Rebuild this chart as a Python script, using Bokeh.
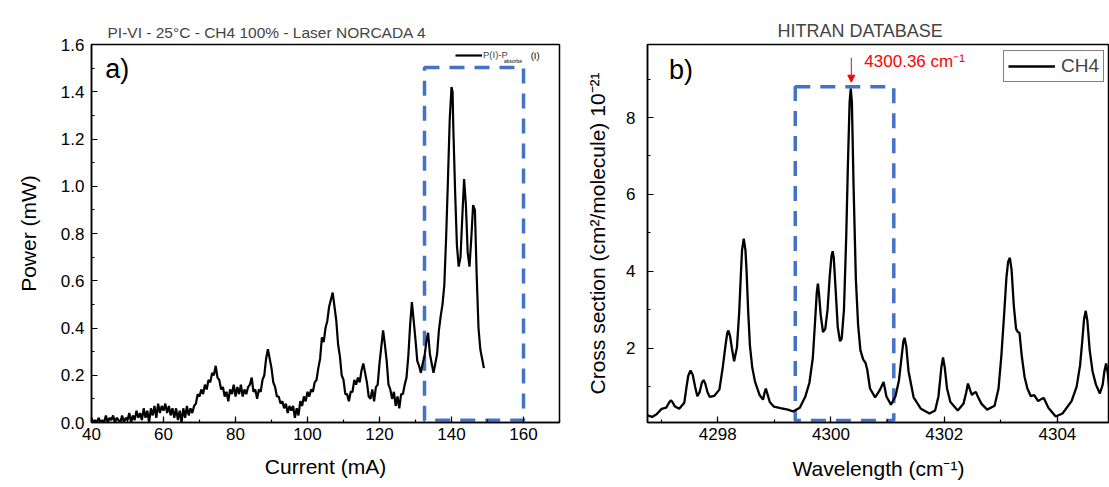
from bokeh.plotting import figure
from bokeh.layouts import row
from bokeh.models import (Legend, LegendItem, Label, Arrow, NormalHead, SingleIntervalTicker,
                          NumeralTickFormatter, Range1d)
from bokeh.embed import file_html
from bokeh.resources import INLINE

FONT = "Liberation Sans"
BLUE = "#4472C4"

# ---------------- data: panel a ----------------
current_mA = [40, 40.5, 41, 41.5, 42, 42.5, 43, 43.5, 44, 44.5, 45, 45.5, 46, 46.5, 47, 47.5, 48, 48.5, 49, 49.5,
              50, 50.5, 51, 51.5, 52, 52.5, 53, 53.5, 54, 54.5, 55, 55.5, 56, 56.5, 57, 57.5, 58, 58.5, 59, 59.5,
              60, 60.5, 61, 61.5, 62, 62.5, 63, 63.5, 64, 64.5, 65, 65.5, 66, 66.5, 67, 67.5, 68, 68.5, 69, 69.5,
              70, 70.5, 71, 71.5, 72, 72.5, 73, 73.5, 74, 74.5, 75, 75.5, 76, 76.5, 77, 77.5, 78, 78.5, 79, 79.5,
              80, 80.5, 81, 81.5, 82, 82.5, 83, 83.5, 84, 84.5, 85, 85.5, 86, 86.5, 87, 87.5, 88, 88.5, 89, 89.5,
              90, 90.5, 91, 91.5, 92, 92.5, 93, 93.5, 94, 94.5, 95, 95.5, 96, 96.5, 97, 97.5, 98, 98.5, 99, 99.5,
              100, 100.5, 101, 101.5, 102, 102.5, 103, 103.5, 104, 104.5, 105, 105.5, 106, 106.5, 107, 107.5, 108, 108.5, 109, 109.5,
              110, 110.5, 111, 111.5, 112, 112.5, 113, 113.5, 114, 114.5, 115, 115.5, 116, 116.5, 117, 117.5, 118, 118.5, 119, 119.5,
              120, 120.5, 121, 121.5, 122, 122.5, 123, 123.5, 124, 124.5, 125, 125.5, 126, 126.5, 127, 127.5, 128, 128.5, 129, 129.5,
              130, 130.5, 131, 131.5, 132, 132.5, 133, 133.5, 134, 134.5, 135, 135.5, 136, 136.5, 137, 137.5, 138, 138.5, 139, 139.5,
              140, 140.3, 140.5, 141, 141.5, 142, 142.5, 143, 143.5, 144, 144.5, 145, 145.5, 146, 146.5, 147, 147.5, 148, 148.5, 149]
power_mW = [0.02, 0.00, 0.01, 0.00, 0.02, 0.00, 0.01, 0.00, 0.03, 0.00, 0.02, 0.01, 0.03, 0.00, 0.02, 0.01, 0.00, 0.03, 0.00, 0.02,
            0.01, 0.04, 0.00, 0.03, 0.01, 0.05, 0.02, 0.04, 0.01, 0.06, 0.02, 0.05, 0.00, 0.06, 0.03, 0.07, 0.02, 0.08, 0.04, 0.07,
            0.05, 0.08, 0.04, 0.07, 0.03, 0.06, 0.02, 0.06, 0.01, 0.05, 0.00, 0.06, 0.02, 0.07, 0.03, 0.06, 0.04, 0.07, 0.08, 0.12,
            0.11, 0.14, 0.12, 0.16, 0.14, 0.18, 0.17, 0.21, 0.20, 0.24, 0.19, 0.18, 0.14, 0.15, 0.11, 0.13, 0.09, 0.14, 0.12, 0.16,
            0.11, 0.15, 0.12, 0.16, 0.11, 0.14, 0.12, 0.15, 0.16, 0.19, 0.13, 0.14, 0.10, 0.14, 0.13, 0.18, 0.20, 0.27, 0.31, 0.27,
            0.23, 0.17, 0.15, 0.11, 0.11, 0.08, 0.09, 0.06, 0.08, 0.04, 0.07, 0.05, 0.07, 0.02, 0.06, 0.03, 0.09, 0.07, 0.11, 0.09,
            0.13, 0.11, 0.14, 0.13, 0.17, 0.18, 0.23, 0.27, 0.36, 0.34, 0.40, 0.43, 0.49, 0.52, 0.55, 0.49, 0.43, 0.33, 0.28, 0.20,
            0.18, 0.12, 0.12, 0.09, 0.13, 0.13, 0.18, 0.16, 0.19, 0.17, 0.22, 0.25, 0.21, 0.17, 0.11, 0.10, 0.14, 0.09, 0.15, 0.16,
            0.25, 0.32, 0.39, 0.33, 0.26, 0.16, 0.14, 0.10, 0.13, 0.07, 0.11, 0.06, 0.12, 0.12, 0.16, 0.19, 0.28, 0.41, 0.51, 0.43,
            0.35, 0.26, 0.24, 0.21, 0.25, 0.28, 0.34, 0.38, 0.29, 0.25, 0.21, 0.25, 0.29, 0.39, 0.45, 0.50, 0.58, 0.78, 1.02, 1.28,
            1.42, 1.40, 1.25, 0.98, 0.75, 0.66, 0.70, 0.87, 1.03, 0.92, 0.72, 0.66, 0.78, 0.92, 0.90, 0.62, 0.40, 0.31, 0.27, 0.23]
box_a_x = [132.5, 160.0]
box_a_y = [0.01, 1.503]

# ---------------- data: panel b ----------------
wavenumber = [4296.76, 4296.84, 4296.92, 4297.01, 4297.09, 4297.14, 4297.17, 4297.20, 4297.24, 4297.32,
              4297.41, 4297.45, 4297.48, 4297.52, 4297.56, 4297.60, 4297.64, 4297.68, 4297.72, 4297.75,
              4297.78, 4297.82, 4297.86, 4297.94, 4298.03, 4298.09, 4298.14, 4298.17, 4298.19, 4298.22,
              4298.25, 4298.29, 4298.34, 4298.38, 4298.41, 4298.43, 4298.46, 4298.49, 4298.51, 4298.54,
              4298.57, 4298.61, 4298.66, 4298.74, 4298.80, 4298.83, 4298.85, 4298.87, 4298.92, 4298.99,
              4299.11, 4299.24, 4299.33, 4299.45, 4299.55, 4299.62, 4299.68, 4299.72, 4299.75, 4299.77,
              4299.79, 4299.82, 4299.86, 4299.90, 4299.94, 4299.98, 4300.01, 4300.03, 4300.05, 4300.08,
              4300.12, 4300.16, 4300.19, 4300.23, 4300.27, 4300.30, 4300.33, 4300.35, 4300.37, 4300.40,
              4300.44, 4300.48, 4300.52, 4300.57, 4300.61, 4300.64, 4300.69, 4300.78, 4300.86, 4300.93,
              4300.98, 4301.06, 4301.14, 4301.20, 4301.25, 4301.28, 4301.30, 4301.33, 4301.37, 4301.46,
              4301.59, 4301.74, 4301.84, 4301.90, 4301.95, 4301.98, 4302.01, 4302.05, 4302.11, 4302.24,
              4302.34, 4302.39, 4302.42, 4302.46, 4302.49, 4302.53, 4302.56, 4302.60, 4302.66, 4302.76,
              4302.89, 4302.96, 4303.01, 4303.06, 4303.10, 4303.13, 4303.16, 4303.19, 4303.23, 4303.27,
              4303.30, 4303.33, 4303.37, 4303.42, 4303.47, 4303.53, 4303.59, 4303.66, 4303.72, 4303.76,
              4303.84, 4303.97, 4304.09, 4304.25, 4304.34, 4304.40, 4304.44, 4304.47, 4304.50, 4304.53,
              4304.57, 4304.62, 4304.68, 4304.75, 4304.80, 4304.83, 4304.86, 4304.89, 4304.92]
cross_section = [0.25, 0.21, 0.28, 0.42, 0.45, 0.58, 0.64, 0.60, 0.49, 0.42,
                 0.58, 1.00, 1.28, 1.42, 1.30, 1.00, 0.75, 0.85, 1.10, 1.17,
                 1.08, 0.85, 0.73, 0.76, 0.92, 1.51, 2.10, 2.40, 2.46, 2.30,
                 2.00, 1.66, 2.02, 2.95, 3.95, 4.55, 4.85, 4.55, 4.00, 2.90,
                 2.05, 1.50, 1.12, 0.78, 0.66, 0.85, 0.95, 0.85, 0.60, 0.48,
                 0.44, 0.40, 0.35, 0.45, 0.75, 1.10, 1.75, 2.70, 3.45, 3.68,
                 3.40, 2.85, 2.42, 2.50, 3.00, 3.90, 4.40, 4.52, 4.35, 3.60,
                 2.55, 2.18, 2.25, 3.00, 4.90, 6.80, 8.40, 8.75, 8.40, 6.20,
                 3.80, 2.60, 1.95, 1.70, 1.62, 1.45, 0.95, 0.72, 0.90, 1.12,
                 0.74, 0.53, 0.75, 1.15, 1.80, 2.18, 2.27, 2.05, 1.40, 0.72,
                 0.42, 0.30, 0.38, 0.75, 1.50, 1.76, 1.50, 0.95, 0.60, 0.38,
                 0.55, 0.85, 1.08, 0.90, 0.78, 0.84, 0.86, 0.72, 0.55, 0.40,
                 0.50, 0.95, 1.80, 2.90, 3.85, 4.25, 4.35, 4.05, 3.10, 2.50,
                 2.42, 2.40, 1.80, 1.25, 0.95, 0.75, 0.78, 0.62, 0.68, 0.70,
                 0.45, 0.22, 0.30, 0.62, 1.00, 1.55, 2.20, 2.75, 2.97, 2.70,
                 1.95, 1.40, 1.05, 0.82, 1.05, 1.40, 1.60, 1.35, 0.85]
box_b_x = [4299.37, 4301.11]
box_b_y = [0.12, 8.8]
peak_wn = 4300.36
arrow_y = [9.55, 8.92]


def style(p):
    p.outline_line_color = "black"
    p.outline_line_width = 1.5
    p.outline_line_alpha = 1
    p.xgrid.visible = False
    p.ygrid.visible = False
    for ax in (p.xaxis[0], p.yaxis[0]):
        ax.axis_line_width = 1.5
        ax.major_tick_in = 6
        ax.major_tick_out = 0
        ax.minor_tick_in = 3
        ax.minor_tick_out = 0
        ax.major_tick_line_width = 1.2
        ax.minor_tick_line_width = 1.2
        ax.major_label_text_font = FONT
        ax.major_label_text_font_size = "17px"
        ax.major_label_text_color = "black"
        ax.axis_label_text_font = FONT
        ax.axis_label_text_font_size = "21px"
        ax.axis_label_text_font_style = "normal"
        ax.axis_label_text_color = "black"
    p.title.text_font = FONT
    p.title.text_font_style = "normal"
    p.title.align = "left"


# ---------------- panel a ----------------
p1 = figure(width=578, height=486, output_backend="svg", toolbar_location=None,
            x_range=Range1d(40, 170), y_range=Range1d(0, 1.6),
            min_border_left=91, min_border_right=19, min_border_top=44, min_border_bottom=64,
            title="PI-VI - 25°C - CH4 100% - Laser NORCADA 4")
style(p1)
p1.title.text_font_size = "15.5px"
p1.title.offset = 16
p1.title.standoff = 7
p1.xaxis.ticker = SingleIntervalTicker(interval=20, num_minor_ticks=2)
p1.yaxis.ticker = SingleIntervalTicker(interval=0.2, num_minor_ticks=2)
p1.yaxis.formatter = NumeralTickFormatter(format="0.0")
p1.xaxis.axis_label = "Current (mA)"
p1.yaxis.axis_label = "Power (mW)"
p1.xaxis.major_label_standoff = 5
p1.yaxis.major_label_standoff = 7
p1.xaxis.axis_label_standoff = 12
p1.yaxis.axis_label_standoff = 18

p1.quad(left=[box_a_x[0]], right=[box_a_x[1]], bottom=[box_a_y[0]], top=[box_a_y[1]],
        fill_color=None, line_color=BLUE, line_width=3.5, line_dash="15 10")
r1 = p1.line(current_mA, power_mW, line_color="black", line_width=2.2)

leg1 = Legend(items=[LegendItem(label="P(I)-P", renderers=[r1])], location=(364, 362),
              border_line_alpha=0, background_fill_alpha=0, padding=0, margin=0, spacing=0,
              glyph_width=27, glyph_height=10, label_height=10, label_standoff=1,
              label_text_font=FONT, label_text_font_size="9.5px")
p1.add_layout(leg1)
p1.add_layout(Label(x=154.6, y=1.532, text="absorbé", text_font=FONT, text_font_size="5px",
                    text_baseline="middle", text_color="black"))
p1.add_layout(Label(x=162.0, y=1.553, text="(I)", text_font=FONT, text_font_size="9.5px",
                    text_baseline="middle", text_color="black"))
p1.add_layout(Label(x=43.8, y=1.495, text="a)", text_font=FONT, text_font_size="27px",
                    text_baseline="middle", text_color="black"))

# ---------------- panel b ----------------
p2 = figure(width=531, height=486, output_backend="svg", toolbar_location=None,
            x_range=Range1d(4296.76, 4304.92), y_range=Range1d(0.065, 9.9),
            min_border_left=69, min_border_right=0, min_border_top=44, min_border_bottom=64,
            title="HITRAN DATABASE")
style(p2)
p2.title.text_font_size = "18px"
p2.title.offset = 130
p2.title.standoff = 7
p2.xaxis.ticker = SingleIntervalTicker(interval=2, num_minor_ticks=2)
p2.yaxis.ticker = SingleIntervalTicker(interval=2, num_minor_ticks=2)
p2.xaxis.axis_label = "Wavelength (cm⁻¹)"
p2.yaxis.axis_label = "Cross section (cm²/molecule) 10⁻²¹"
p2.xaxis.major_label_standoff = 5
p2.yaxis.major_label_standoff = 12
p2.xaxis.axis_label_standoff = 14
p2.yaxis.axis_label_standoff = 14

p2.quad(left=[box_b_x[0]], right=[box_b_x[1]], bottom=[box_b_y[0]], top=[box_b_y[1]],
        fill_color=None, line_color=BLUE, line_width=3.5, line_dash="15 10")
r2 = p2.line(wavenumber, cross_section, line_color="black", line_width=2.3)

leg2 = Legend(items=[LegendItem(label="CH4", renderers=[r2])], location=(356, 340),
              border_line_color="black", border_line_width=1, background_fill_color="white",
              padding=4, margin=0, spacing=0, glyph_width=47, glyph_height=18, label_height=18,
              label_standoff=6, label_text_font=FONT, label_text_font_size="19px")
p2.add_layout(leg2)
p2.add_layout(Label(x=4297.14, y=9.24, text="b)", text_font=FONT, text_font_size="27px",
                    text_baseline="middle", text_color="black"))
p2.add_layout(Arrow(end=NormalHead(size=7, fill_color="red", line_color="red"),
                    x_start=peak_wn, y_start=arrow_y[0], x_end=peak_wn, y_end=arrow_y[1],
                    line_color="red", line_width=1))
p2.add_layout(Label(x=4300.59, y=9.45, text="4300.36 cm⁻¹", text_font=FONT, text_font_size="17px",
                    text_baseline="middle", text_color="red"))

layout = row(p1, p2)
open("out.html", "w").write(file_html(layout, INLINE))
